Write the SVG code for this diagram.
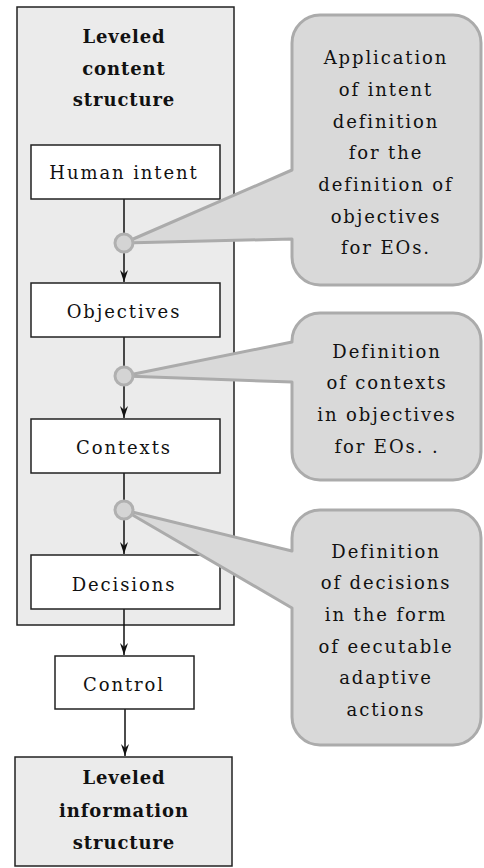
<svg xmlns="http://www.w3.org/2000/svg" width="484" height="868" viewBox="0 0 484 868">
<defs>
<style>
.t{font-family:"DejaVu Serif","Liberation Serif",serif;font-size:18px;letter-spacing:1.9px;fill:#111;text-anchor:middle}
.b{font-family:"DejaVu Serif","Liberation Serif",serif;font-size:18px;font-weight:bold;letter-spacing:0.9px;fill:#111;text-anchor:middle}
.box{fill:#fff;stroke:#222;stroke-width:1.5}
.call{fill:#d9d9d9;stroke:#ababab;stroke-width:3;stroke-linejoin:round}
.dot{fill:#d4d4d4;stroke:#b0b0b0;stroke-width:3}
.ln{stroke:#111;stroke-width:1.5;fill:none}
</style>
<marker id="ah" markerUnits="userSpaceOnUse" markerWidth="14" markerHeight="12" viewBox="-13 -6 14 12" refX="0" refY="0" orient="auto">
<path d="M-12,-4 L0,0 L-12,4 L-8,0 Z" fill="#111"/>
</marker>
</defs>
<rect width="484" height="868" fill="#fff"/>
<g id="content-structure">
<rect x="17" y="7" width="217" height="618" fill="#ebebeb" stroke="#222" stroke-width="1.5"/>
<text class="b" x="124" y="43">Leveled</text>
<text class="b" x="124" y="75">content</text>
<text class="b" x="124" y="106">structure</text>
</g>
<g id="connectors">
<line class="ln" x1="124" y1="199" x2="124" y2="282" marker-end="url(#ah)"/>
<line class="ln" x1="124" y1="337" x2="124" y2="418" marker-end="url(#ah)"/>
<line class="ln" x1="124" y1="473" x2="124" y2="554" marker-end="url(#ah)"/>
<line class="ln" x1="124" y1="609" x2="124" y2="655" marker-end="url(#ah)"/>
<line class="ln" x1="125" y1="709" x2="125" y2="756" marker-end="url(#ah)"/>
</g>
<g id="human-intent">
<rect class="box" x="31" y="145" width="189" height="54"/>
<text class="t" x="124" y="179">Human intent</text>
</g>
<g id="objectives">
<rect class="box" x="31" y="283" width="189" height="54"/>
<text class="t" x="124" y="318">Objectives</text>
</g>
<g id="contexts">
<rect class="box" x="31" y="419" width="189" height="54"/>
<text class="t" x="124" y="454">Contexts</text>
</g>
<g id="decisions">
<rect class="box" x="31" y="555" width="189" height="54"/>
<text class="t" x="124" y="591">Decisions</text>
</g>
<g id="control">
<rect class="box" x="55" y="656" width="139" height="53"/>
<text class="t" x="124" y="691">Control</text>
</g>
<g id="information-structure">
<rect x="15" y="757" width="217" height="109" fill="#ebebeb" stroke="#222" stroke-width="1.5"/>
<text class="b" x="124" y="784">Leveled</text>
<text class="b" x="124" y="817">information</text>
<text class="b" x="124" y="849">structure</text>
</g>
<g id="callout-1">
<path class="call" d="M320,15 H453 A28,28 0 0 1 481,43 V257 A28,28 0 0 1 453,285 H320 A28,28 0 0 1 292,257 V239 L124,243 L292,170 V43 A28,28 0 0 1 320,15 Z"/>
<circle class="dot" cx="124" cy="243" r="9"/>
<text class="t" x="386" y="64">Application</text>
<text class="t" x="386" y="96">of intent</text>
<text class="t" x="386" y="128">definition</text>
<text class="t" x="386" y="159">for the</text>
<text class="t" x="386" y="191">definition of</text>
<text class="t" x="386" y="223">objectives</text>
<text class="t" x="386" y="254">for EOs.</text>
</g>
<g id="callout-2">
<path class="call" d="M320,313 H453 A28,28 0 0 1 481,341 V452 A28,28 0 0 1 453,480 H320 A28,28 0 0 1 292,452 V382 L124,376 L292,342 V341 A28,28 0 0 1 320,313 Z"/>
<circle class="dot" cx="124" cy="376" r="9"/>
<text class="t" x="387" y="358">Definition</text>
<text class="t" x="387" y="389">of contexts</text>
<text class="t" x="387" y="421">in objectives</text>
<text class="t" x="387" y="453">for EOs. .</text>
</g>
<g id="callout-3">
<path class="call" d="M320,510 H453 A28,28 0 0 1 481,538 V717 A28,28 0 0 1 453,745 H320 A28,28 0 0 1 292,717 V608 L124,510 L292,551 V538 A28,28 0 0 1 320,510 Z"/>
<circle class="dot" cx="124" cy="510" r="9"/>
<text class="t" x="386" y="558">Definition</text>
<text class="t" x="386" y="589">of decisions</text>
<text class="t" x="386" y="621">in the form</text>
<text class="t" x="386" y="653">of eecutable</text>
<text class="t" x="386" y="684">adaptive</text>
<text class="t" x="386" y="716">actions</text>
</g>
</svg>
